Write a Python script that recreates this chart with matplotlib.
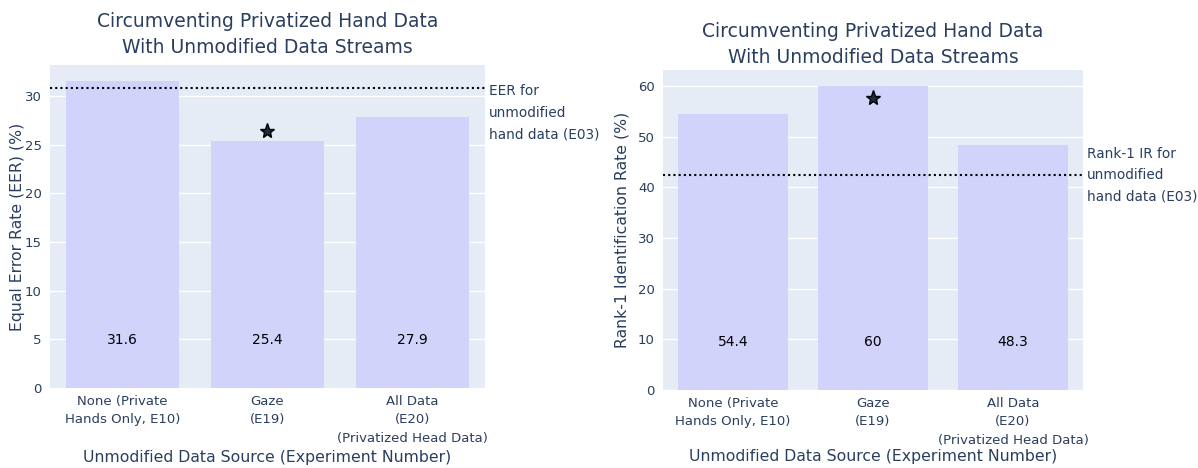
import matplotlib
matplotlib.use("Agg")
import matplotlib.pyplot as plt
import matplotlib.transforms as mtransforms

plt.rcParams['font.family'] = ['DejaVu Sans']

categories = ["None (Private\nHands Only, E10)", "Gaze\n(E19)", "All Data\n(E20)\n(Privatized Head Data)"]
eer_values = [31.6, 25.4, 27.9]
rank1_values = [54.4, 60.0, 48.3]
eer_baseline = 30.8
rank1_baseline = 42.4
eer_star = (1, 26.4)
rank1_star = (1, 57.6)
title = "Circumventing Privatized Hand Data\nWith Unmodified Data Streams"
xlabel = "Unmodified Data Source (Experiment Number)"

BG = "#E5ECF6"
BAR = "#D2D3FB"
TXT = "#2a3f5f"

fig = plt.figure(figsize=(11.98, 4.68), dpi=100)

def panel(rect, values, ylim, yticks, ylabel, ylabel_x, xlabel_y, baseline, base_text,
          base_text_y, star, title_y):
    ax = fig.add_axes(rect)
    ax.set_facecolor(BG)
    x = list(range(len(categories)))
    ax.bar(x, values, width=0.78, color=BAR, zorder=2)
    ax.set_xlim(-0.5, len(categories) - 0.5)
    ax.set_ylim(*ylim)
    ax.set_yticks(yticks)
    ax.grid(axis='y', color='white', linewidth=1, zorder=1)
    ax.set_axisbelow(True)
    for s in ax.spines.values():
        s.set_visible(False)
    ax.tick_params(axis='y', length=0, labelsize=9.5, colors=TXT, pad=6)
    ax.tick_params(axis='x', length=0, labelsize=9.5, colors=TXT, pad=5)
    ax.set_xticks(x)
    ax.set_xticklabels(categories, linespacing=1.55)
    ax.set_ylabel(ylabel, fontsize=11.3, color=TXT, va='center')
    ax.yaxis.set_label_coords(ylabel_x, 0.5)
    ax.set_xlabel(xlabel, fontsize=11.3, color=TXT, va='center')
    ax.xaxis.set_label_coords(0.5, xlabel_y)
    for xi, v in zip(x, values):
        ax.annotate(f"{v:g}", xy=(xi, 0), xytext=(0, 48), textcoords='offset pixels',
                    ha='center', va='center', fontsize=10, color='black', zorder=4)
    ax.axhline(baseline, color='black', linestyle=(0, (1, 1.5)), linewidth=1.5, zorder=3)
    trans = mtransforms.blended_transform_factory(ax.transAxes, ax.transData)
    ax.text(1.01, base_text_y, base_text, transform=trans, ha='left', va='center',
            fontsize=9.8, color=TXT, linespacing=1.7)
    ax.plot([star[0]], [star[1]], marker='*', markersize=11, markerfacecolor='#1f2a44',
            markeredgecolor='black', markeredgewidth=1, zorder=5, linestyle='none')
    fig.text(rect[0] + rect[2] / 2, title_y, title, ha='center', va='center',
             fontsize=13.5, color=TXT, linespacing=1.5)
    return ax

panel([0.0417, 0.171, 0.363, 0.690], eer_values, (0, 33.2), [0, 5, 10, 15, 20, 25, 30],
      "Equal Error Rate (EER) (%)", -0.0736, -0.214, eer_baseline,
      "EER for\nunmodified\nhand data (E03)", 28.3, eer_star, 0.926)
panel([0.5534, 0.1667, 0.3506, 0.684], rank1_values, (0, 63.2), [0, 10, 20, 30, 40, 50, 60],
      "Rank-1 Identification Rate (%)", -0.0976, -0.209, rank1_baseline,
      "Rank-1 IR for\nunmodified\nhand data (E03)", rank1_baseline, rank1_star, 0.905)

fig.savefig("out.png", dpi=100)
